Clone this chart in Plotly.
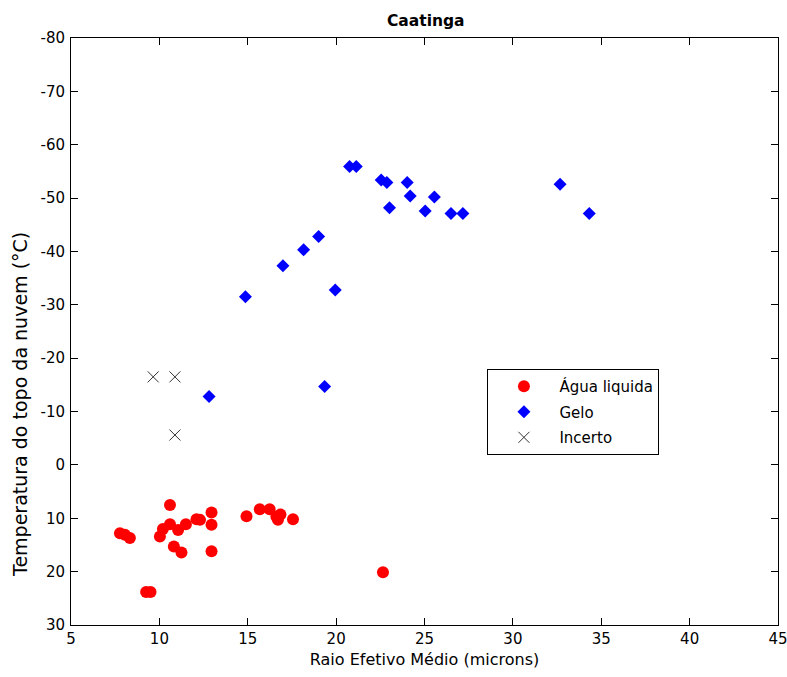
import plotly.graph_objects as go

# Liquid water clouds: effective radius (microns) and cloud-top temperature (°C)
agua_raio = [7.77, 8.05, 8.33, 9.25, 9.5, 10.03, 10.2, 10.6, 10.6, 10.82, 11.06,
             11.25, 11.5, 12.1, 12.3, 12.95, 12.95, 12.95, 14.93, 15.68, 16.24,
             16.62, 16.71, 16.85, 17.56, 22.65]
agua_temp = [12.8, 13.1, 13.7, 23.8, 23.8, 13.4, 12.0, 7.5, 11.1, 15.3, 12.2,
             16.4, 11.1, 10.2, 10.3, 8.9, 11.2, 16.2, 9.6, 8.3, 8.3,
             9.7, 10.3, 9.3, 10.2, 20.1]

# Ice clouds
gelo_raio = [12.81, 14.87, 16.99, 18.16, 19.01, 19.35, 19.95, 20.76, 21.14,
             22.55, 22.87, 23.02, 24.02, 24.19, 25.04, 25.56, 26.5, 27.17,
             32.67, 34.32]
gelo_temp = [-12.8, -31.5, -37.3, -40.3, -42.8, -14.7, -32.8, -55.9, -55.9,
             -53.4, -52.9, -48.2, -52.9, -50.4, -47.6, -50.2, -47.1, -47.1,
             -52.6, -47.1]

# Uncertain phase
incerto_raio = [9.65, 10.88, 10.88]
incerto_temp = [-16.5, -16.5, -5.6]

# Axis ticks (plain hyphen for negative labels)
x_ticks = [5, 10, 15, 20, 25, 30, 35, 40, 45]
y_ticks = [-80, -70, -60, -50, -40, -30, -20, -10, 0, 10, 20, 30]
y_tick_text = ["-80", "-70", "-60", "-50", "-40", "-30", "-20", "-10",
               "0", "10", "20", "30"]

FONT = "DejaVu Sans, Verdana, sans-serif"

fig = go.Figure()
fig.add_trace(go.Scatter(
    x=agua_raio, y=agua_temp, mode="markers", name="Água liquida",
    legendgroup="agua",
    marker=dict(symbol="circle", size=12, color="#ff0000", line=dict(width=0)),
))
fig.add_trace(go.Scatter(
    x=gelo_raio, y=gelo_temp, mode="markers", name="Gelo",
    legendgroup="gelo",
    marker=dict(symbol="diamond", size=10, color="#0000ff", line=dict(width=0)),
))
fig.add_trace(go.Scatter(
    x=incerto_raio, y=incerto_temp, mode="markers", name="Incerto",
    legendgroup="incerto",
    marker=dict(symbol="x-thin-open", size=11, color="#333333",
                line=dict(width=1, color="#333333")),
))

axis_common = dict(
    showgrid=False, zeroline=False, showline=True, linecolor="black", linewidth=1,
    mirror="ticks", ticks="inside", ticklen=7, tickcolor="black",
    tickfont=dict(family=FONT, size=15, color="black"),
    ticklabeloverflow="allow", automargin=False,
)

fig.update_layout(
    width=787, height=677,
    margin=dict(l=71, r=9, t=38, b=52),
    paper_bgcolor="white", plot_bgcolor="white",
    font=dict(family=FONT, size=15, color="black"),
    title=dict(text="<b>Caatinga</b>", x=0.541, xanchor="center", y=0.969,
               yanchor="middle", font=dict(family=FONT, size=15.5, color="black")),
    xaxis=dict(range=[5, 45], tickvals=x_ticks,
               title=dict(text="Raio Efetivo Médio (microns)", standoff=6,
                          font=dict(family=FONT, size=16)),
               **axis_common),
    yaxis=dict(range=[30, -80], tickvals=y_ticks, ticktext=y_tick_text,
               ticklabelstandoff=2,
               **axis_common),
    legend=dict(x=0.589, y=0.436, xanchor="left", yanchor="top",
                bgcolor="white", bordercolor="black", borderwidth=1,
                font=dict(family=FONT, size=15), itemwidth=61,
                tracegroupgap=3),
    showlegend=True,
)

# Vertical axis label
fig.add_annotation(
    text="Temperatura do topo da nuvem (°C)", textangle=-90,
    xref="paper", yref="paper", x=-0.072, y=0.375,
    xanchor="center", yanchor="middle", showarrow=False,
    font=dict(family=FONT, size=19, color="black"),
)

fig.write_html("out.html")
